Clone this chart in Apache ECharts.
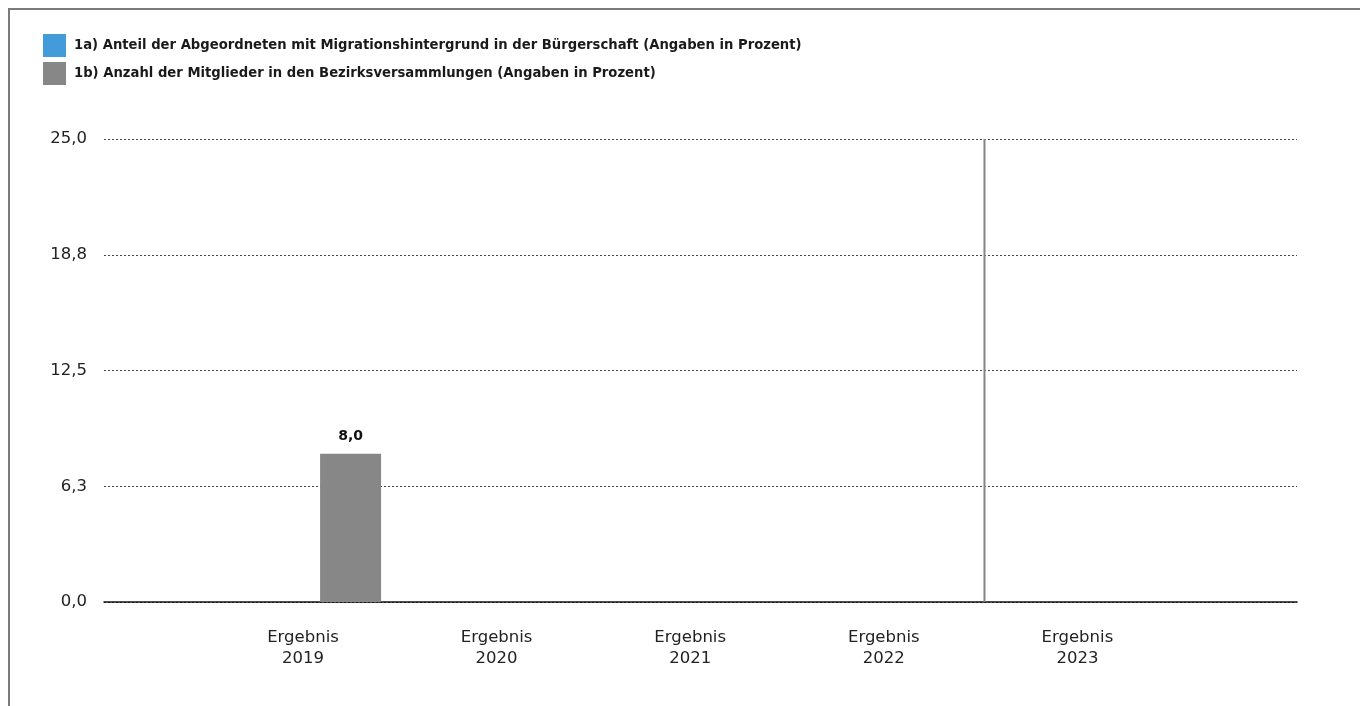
<!DOCTYPE html>
<html>
<head>
<meta charset="utf-8">
<title>Migrationshintergrund – Bürgerschaft und Bezirksversammlungen</title>
<script src="https://cdn.jsdelivr.net/npm/echarts@6/dist/echarts.min.js"></script>
<style>
  html, body { margin: 0; padding: 0; background: #fff; }
  #frame {
    position: absolute; left: 8px; top: 8px; right: 0; bottom: 0;
    border-top: 2px solid #7a7a7a; border-left: 2px solid #7a7a7a;
    pointer-events: none; z-index: 2;
  }
  #chart { position: absolute; left: 0; top: 0; width: 1360px; height: 706px; }
</style>
</head>
<body>
<div id="chart"></div>
<div id="frame"></div>
<script>
// Categories and values
const categories = ['Ergebnis\n2019', 'Ergebnis\n2020', 'Ergebnis\n2021', 'Ergebnis\n2022', 'Ergebnis\n2023'];
const seriesNames = [
  '1a) Anteil der Abgeordneten mit Migrationshintergrund in der Bürgerschaft (Angaben in Prozent)',
  '1b) Anzahl der Mitglieder in den Bezirksversammlungen (Angaben in Prozent)'
];
const buergerschaft = [null, null, null, null, null];
const bezirksversammlungen = [8.0, null, null, null, null];
const yTickLabels = ['0,0', '6,3', '12,5', '18,8', '25,0'];
// separator between 2022 and 2023 (in category index units)
const separatorAt = 3.52;

const fmt = v => v.toFixed(1).replace('.', ',');
const FONT = 'DejaVu Sans';

const chart = echarts.init(document.getElementById('chart'), null, { renderer: 'canvas' });

chart.setOption({
  animation: false,
  backgroundColor: '#ffffff',
  legend: {
    orient: 'vertical',
    left: 38,
    top: 29,
    itemWidth: 23,
    itemHeight: 23,
    itemGap: 5,
    icon: 'rect',
    selectedMode: false,
    data: seriesNames,
    textStyle: {
      fontFamily: FONT,
      fontWeight: 'bold',
      fontSize: 13.2,
      color: '#1a1a1a',
      padding: [0, 0, 0, 3]
    }
  },
  grid: [
    // full-width plot area: y scale, grid lines, baseline
    { left: 104, right: 63, top: 139, bottom: 104 },
    // category band area for the bars and labels
    { left: 206.2, width: 968, top: 139, bottom: 104 }
  ],
  xAxis: [
    {
      gridIndex: 0, type: 'value', min: 0, max: 1,
      axisLine: { show: true, lineStyle: { color: '#111', width: 1.5 } },
      axisTick: { show: false }, axisLabel: { show: false }, splitLine: { show: false }
    },
    {
      gridIndex: 1, type: 'category', data: categories,
      axisLine: { show: false }, axisTick: { show: false }, splitLine: { show: false },
      axisLabel: {
        margin: 25,
        fontFamily: FONT, fontSize: 16.5, color: '#222', lineHeight: 21, align: 'center'
      }
    },
    {
      gridIndex: 1, type: 'value', min: -0.5, max: 4.5, show: false
    }
  ],
  yAxis: [
    {
      gridIndex: 0, type: 'value', min: 0, max: 25, interval: 6.25,
      axisLine: { show: false }, axisTick: { show: false },
      axisLabel: {
        margin: 17, fontFamily: FONT, fontSize: 16.5, color: '#222',
        formatter: (v, i) => yTickLabels[i]
      },
      splitLine: { show: true, lineStyle: { color: '#444', type: [2, 2], width: 1 } }
    },
    {
      gridIndex: 1, type: 'value', min: 0, max: 25, show: false
    }
  ],
  series: [
    {
      name: seriesNames[0], type: 'bar',
      xAxisIndex: 1, yAxisIndex: 1,
      data: buergerschaft,
      barWidth: 61, barGap: '56%',
      itemStyle: { color: '#449bd9' }
    },
    {
      name: seriesNames[1], type: 'bar',
      xAxisIndex: 1, yAxisIndex: 1,
      data: bezirksversammlungen,
      barWidth: 61, barGap: '56%',
      itemStyle: { color: '#878787' },
      label: {
        show: true, position: 'top', distance: 10,
        fontFamily: FONT, fontWeight: 'bold', fontSize: 14, color: '#111',
        formatter: p => (p.value == null ? '' : fmt(p.value))
      }
    },
    {
      name: 'separator', type: 'line',
      xAxisIndex: 2, yAxisIndex: 1,
      data: [[separatorAt, 0], [separatorAt, 25]],
      showSymbol: false, silent: true,
      lineStyle: { color: '#858585', width: 2 },
      z: 1
    }
  ]
});
</script>
</body>
</html>
